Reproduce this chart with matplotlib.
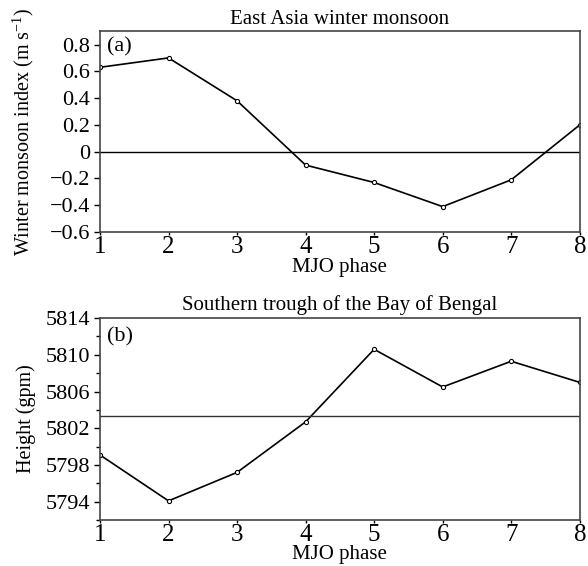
import matplotlib.pyplot as plt
import numpy as np

plt.rcParams['font.family'] = ['Liberation Serif', 'DejaVu Serif']
plt.rcParams['font.size'] = 15
plt.rcParams['mathtext.fontset'] = 'custom'
plt.rcParams['mathtext.rm'] = 'Liberation Serif'

phase = [1, 2, 3, 4, 5, 6, 7, 8]
wmi = [0.63, 0.70, 0.38, -0.10, -0.23, -0.41, -0.21, 0.20]
height = [5799.1, 5794.1, 5797.2, 5802.7, 5810.6, 5806.5, 5809.3, 5807.0]

fig = plt.figure(figsize=(5.88, 5.66), dpi=100)
ax1 = fig.add_axes([0.170, 0.590, 0.816, 0.355])
ax2 = fig.add_axes([0.170, 0.081, 0.816, 0.357])

ax1.plot(phase, wmi, color='black', lw=1.2, marker='o', ms=3, mfc='white', mew=0.8)
ax1.axhline(0, color='black', lw=1)
ax1.set_xlim(1, 8)
ax1.set_ylim(-0.6, 0.9)
ax1.set_xticks(phase)
ax1.set_yticks([-0.6, -0.4, -0.2, 0, 0.2, 0.4, 0.6, 0.8])
ax1.set_yticklabels(['\u22120.6', '\u22120.4', '\u22120.2', '0', '0.2', '0.4', '0.6', '0.8'])
ax1.set_title('East Asia winter monsoon', fontsize=15, pad=5)
ax1.set_xlabel('MJO phase', labelpad=0)
ax1.set_ylabel('Winter monsoon index (m s$^{\\mathregular{-1}}$)', fontsize=14.5)
ax1.yaxis.set_label_coords(-0.133, 0.5)
ax1.text(0.015, 0.97, '(a)', transform=ax1.transAxes, va='top', ha='left', fontsize=16)

ax2.plot(phase, height, color='black', lw=1.2, marker='o', ms=3, mfc='white', mew=0.8)
ax2.axhline(np.mean(height), color='#333333', lw=1)
ax2.set_xlim(1, 8)
ax2.set_ylim(5792, 5814)
ax2.set_xticks(phase)
ax2.set_yticks([5794, 5798, 5802, 5806, 5810, 5814])
ax2.set_yticks(np.arange(5792, 5815, 2), minor=True)
ax2.set_title('Southern trough of the Bay of Bengal', fontsize=15, pad=6)
ax2.set_xlabel('MJO phase', labelpad=-1)
ax2.set_ylabel('Height (gpm)', fontsize=14.5)
ax2.yaxis.set_label_coords(-0.133, 0.5)
ax2.text(0.015, 0.955, '(b)', transform=ax2.transAxes, va='top', ha='left', fontsize=16)

for ax in (ax1, ax2):
    ax.tick_params(axis='y', direction='out', length=4, width=1, labelsize=16, pad=3)
    ax.tick_params(axis='x', direction='out', length=2, width=1, labelsize=18, pad=1)
    ax.tick_params(which='minor', length=3, width=1)
    for s in ax.spines.values():
        s.set_color('#444444')
        s.set_linewidth(1.2)

plt.savefig('out.png', dpi=100)
